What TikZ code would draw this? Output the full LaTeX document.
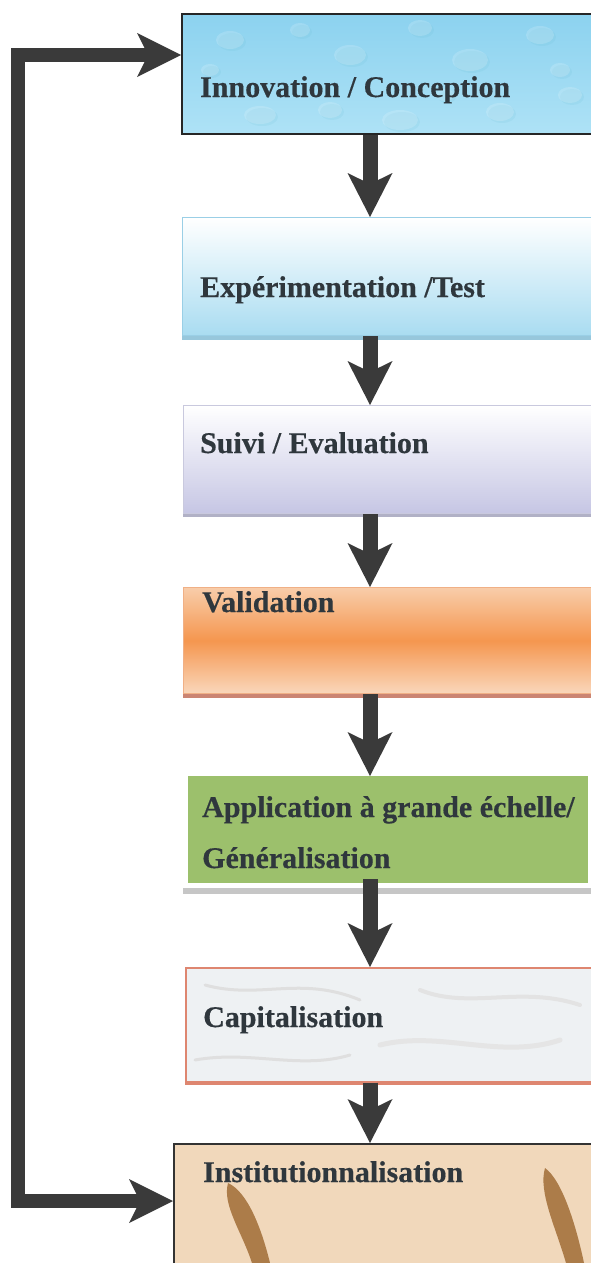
\documentclass[tikz,border=0pt]{standalone}
\usepackage{fontspec}
\setmainfont[BoldFeatures={FakeBold=0.4}]{Liberation Serif}
\usetikzlibrary{arrows.meta,shadows,calc}
\definecolor{arr}{HTML}{3A3A3A}
\definecolor{txt}{HTML}{2F373D}
\definecolor{bluea}{HTML}{8CD2EF}
\definecolor{blueb}{HTML}{AEE2F6}
\definecolor{sky}{HTML}{A9DCF1}
\definecolor{skyline}{HTML}{9ACFE6}
\definecolor{lav}{HTML}{C6C6E4}
\definecolor{lavline}{HTML}{C9C9DE}
\definecolor{orlight}{HTML}{F8CDAA}
\definecolor{ormid}{HTML}{F5964F}
\definecolor{orline}{HTML}{F0B086}
\definecolor{green}{HTML}{9CC06C}
\definecolor{marble}{HTML}{EEF1F3}
\definecolor{salmon}{HTML}{DE8670}
\definecolor{beige}{HTML}{F1D8BB}
\definecolor{fishc}{HTML}{A06C36}
\tikzset{
  box/.style={rectangle, anchor=north west, inner sep=0pt, minimum width=430pt},
  lbl/.style={anchor=base west, inner sep=0pt, text=txt,
    font=\fontsize{30}{36}\selectfont\bfseries},
  bigarrow/.style={draw=arr, line width=15pt,
    -{Stealth[length=44pt, width=45pt, inset=11pt, line width=0pt]}},
  looparrow/.style={draw=arr, line width=14pt, line join=miter,
    {Stealth[length=44pt, width=44pt, inset=11pt, line width=0pt]}-{Stealth[length=44pt, width=44pt, inset=11pt, line width=0pt]}},
  drop/.style={fill=white, opacity=0.16},
  dropedge/.style={fill=bluea!70!teal, opacity=0.12},
}
\begin{document}
\begin{tikzpicture}[x=1pt,y=-1pt]
\useasboundingbox (0,0) rectangle (591,1263);
\fill[white] (0,0) rectangle (591,1263);
\begin{scope}
\clip (0,0) rectangle (591,1263);
% Box 1
\node[box, minimum height=120pt, top color=bluea, bottom color=blueb,
      draw=black!85, line width=2pt] (b1) at (181,13) {};
\begin{scope}
\clip (182,14) rectangle (591,132);
\foreach \px/\py/\rx/\ry in {230/40/14/9, 300/30/10/7, 350/55/16/10, 420/28/12/8, 470/60/18/11,
  540/35/14/9, 260/115/16/9, 330/110/12/8, 400/120/18/10, 500/112/14/9, 570/95/12/8,
  210/70/9/6, 560/70/10/7, 445/95/9/6}
  {\fill[dropedge] (\px+2,\py+2) ellipse ({\rx pt} and {\ry pt});
   \fill[drop] (\px,\py) ellipse ({\rx pt} and {\ry pt});}
\end{scope}
% Box 2
\fill[skyline!90!gray] (182,333) rectangle (600,340);
\node[box, minimum height=118pt, top color=white, bottom color=sky,
      draw=skyline, line width=1pt] (b2) at (182,217) {};
% Box 3
\fill[lav!70!gray] (183,511) rectangle (600,517);
\node[box, minimum height=108pt, top color=white, bottom color=lav,
      draw=lavline, line width=1pt] (b3) at (183,405) {};
% Box 4
\fill[salmon!80!gray] (183,690) rectangle (600,698);
\node[box, minimum height=106pt, top color=orlight, bottom color=orlight!80!white,
      middle color=ormid, draw=orline, line width=1pt] (b4) at (183,587) {};
% Box 5
\fill[gray!45] (183,888) rectangle (600,894);
\node[box, minimum width=400pt, minimum height=107pt, fill=green] (b5) at (188,776) {};
% Box 6
\fill[salmon] (185,1079) rectangle (600,1085);
\node[box, minimum height=114pt, fill=marble, draw=salmon, line width=1.5pt] (b6) at (185,967) {};
\begin{scope}
\clip (186,968) rectangle (591,1080);
\draw[gray!25, line width=3pt, line cap=round] (205,985) .. controls (260,1000) and (300,975) .. (360,1000);
\draw[gray!22, line width=4pt, line cap=round] (420,990) .. controls (470,1010) and (520,985) .. (580,1005);
\draw[gray!25, line width=3pt, line cap=round] (195,1060) .. controls (250,1050) and (300,1070) .. (350,1055);
\draw[gray!20, line width=5pt, line cap=round] (380,1045) .. controls (440,1030) and (500,1060) .. (560,1040);
\end{scope}
% Box 7
\node[box, minimum height=130pt, fill=beige, draw=black!80, line width=2pt] (b7) at (173,1143) {};
\fill[fishc, opacity=0.85] (228,1183) .. controls (248,1192) and (262,1230) .. (270,1263)
   -- (252,1263) .. controls (242,1232) and (222,1205) .. (228,1183) -- cycle;
\fill[fishc, opacity=0.85] (545,1168) .. controls (562,1180) and (576,1225) .. (584,1263)
   -- (566,1263) .. controls (556,1228) and (538,1192) .. (545,1168) -- cycle;
\end{scope}
% Labels
\node[lbl] (t1) at (200,97) {Innovation / Conception};
\node[lbl] (t2) at (200,297) {Expérimentation /Test};
\node[lbl] (t3) at (200,453) {Suivi / Evaluation};
\node[lbl] (t4) at (202,612) {Validation};
\node[lbl] (t5a) at (202,817) {Application à grande échelle/};
\node[lbl] (t5b) at (202,868) {Généralisation};
\node[lbl] (t6) at (203,1027) {Capitalisation};
\node[lbl] (t7) at (203,1182) {Institutionnalisation};
% Connectors
\coordinate (ax) at (370,0);
\draw[bigarrow] (b1.south -| ax) -- (b2.north -| ax);
\draw[bigarrow] (b2.south -| ax) -- (b3.north -| ax);
\draw[bigarrow] (b3.south -| ax) -- (b4.north -| ax);
\draw[bigarrow] (b4.south -| ax) -- (b5.north -| ax);
\draw[bigarrow] ($(b5.south -| ax)+(0,-4)$) -- (b6.north -| ax);
\draw[bigarrow] (b6.south -| ax) -- (b7.north -| ax);
\coordinate (lt) at (18,55);
\coordinate (lb) at (18,1201);
\draw[looparrow] (lt -| b1.west) -- (lt) -- (lb) -- (lb -| b7.west);
\end{tikzpicture}
\end{document}
